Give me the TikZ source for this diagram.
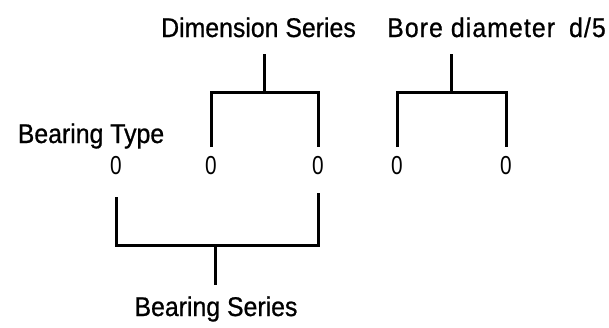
\documentclass[tikz,border=0pt]{standalone}
\usepackage{fontspec}
\setmainfont{Liberation Sans}
\newfontfamily\labelfont[FakeBold=0.8,FakeStretch=0.92]{Liberation Sans}
\newfontfamily\borefont[FakeBold=0.8,FakeStretch=0.92,LetterSpace=4]{Liberation Sans}
\newfontfamily\digitfont[FakeStretch=0.8]{Liberation Sans}
\begin{document}
\begin{tikzpicture}[x=1pt,y=-1pt,
  lbl/.style={font=\labelfont\fontsize{27}{30}\selectfont, inner sep=0pt, anchor=base},
  dig/.style={font=\digitfont\fontsize{26}{29}\selectfont, inner sep=0pt, anchor=base},
  brk/.style={line width=3pt, line join=miter, line cap=butt}]
\useasboundingbox (0,0) rectangle (609,327);
% labels
\node[lbl] (dim) at (258.5,37) {Dimension Series};
\node[lbl, anchor=base east] (bore) at (606,37) {\borefont Bore diameter\hspace*{14pt}d/5};
\node[lbl] (type) at (91,143) {Bearing Type};
\node[lbl] (ser) at (216,316) {Bearing Series};
% digits
\node[dig] (z1) at (116,174) {0};
\node[dig] (z2) at (211,174) {0};
\node[dig] (z3) at (318,174) {0};
\node[dig] (z4) at (397,174) {0};
\node[dig] (z5) at (506,174) {0};
% dimension series bracket
\coordinate (d1) at (211,147);
\coordinate (d2) at (318,147);
\coordinate (dm) at (264,92);
\coordinate (dt) at (264,54);
\draw[brk] (d1) |- (dm) -| (d2);
\draw[brk] (dm) -- (dt);
% bore diameter bracket
\coordinate (b1) at (397,147);
\coordinate (b2) at (506,147);
\coordinate (bm) at (451,92);
\coordinate (bt) at (451,54);
\draw[brk] (b1) |- (bm) -| (b2);
\draw[brk] (bm) -- (bt);
% bearing series bracket
\coordinate (s1) at (116,197);
\coordinate (s2) at (318,193);
\coordinate (sm) at (215,245);
\coordinate (sb) at (215,285);
\draw[brk] (s1) |- (sm) -| (s2);
\draw[brk] (sm) -- (sb);
\end{tikzpicture}
\end{document}
